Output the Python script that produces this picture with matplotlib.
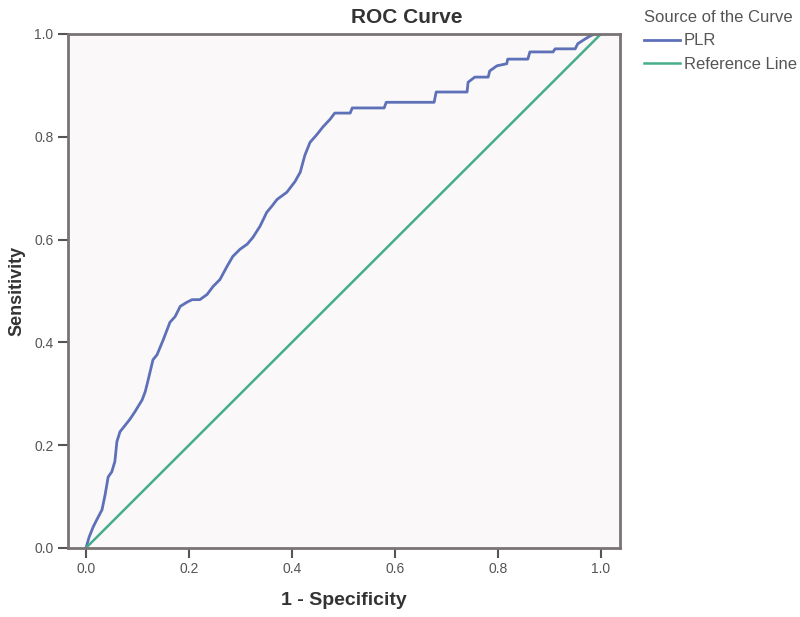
import matplotlib.pyplot as plt

# ROC curve for PLR
fpr = [0.0, 0.006, 0.014, 0.021, 0.031, 0.037, 0.043, 0.050, 0.056, 0.060,
       0.066, 0.085, 0.095, 0.109, 0.115, 0.120, 0.130, 0.138, 0.150, 0.163,
       0.173, 0.183, 0.196, 0.206, 0.221, 0.235, 0.247, 0.260, 0.274, 0.285,
       0.299, 0.313, 0.324, 0.338, 0.351, 0.361, 0.371, 0.390, 0.406, 0.416,
       0.425, 0.435, 0.449, 0.460, 0.474, 0.483, 0.513, 0.517, 0.579, 0.583,
       0.676, 0.680, 0.740, 0.742, 0.755, 0.781, 0.784, 0.798, 0.817, 0.819,
       0.858, 0.862, 0.907, 0.911, 0.950, 0.955, 0.969, 0.979, 0.988, 1.0]
tpr = [0.0, 0.021, 0.041, 0.055, 0.074, 0.103, 0.138, 0.148, 0.168, 0.207,
       0.226, 0.250, 0.265, 0.288, 0.304, 0.324, 0.366, 0.376, 0.405, 0.439,
       0.450, 0.470, 0.478, 0.483, 0.483, 0.493, 0.509, 0.522, 0.548, 0.567,
       0.581, 0.591, 0.604, 0.626, 0.653, 0.665, 0.678, 0.692, 0.713, 0.731,
       0.764, 0.789, 0.805, 0.819, 0.834, 0.846, 0.846, 0.856, 0.856, 0.867,
       0.867, 0.887, 0.887, 0.906, 0.916, 0.916, 0.928, 0.938, 0.942, 0.951,
       0.951, 0.965, 0.965, 0.971, 0.971, 0.981, 0.990, 0.996, 1.0, 1.0]
ref_x = [0.0, 1.0]
ref_y = [0.0, 1.0]
ticks = [0.0, 0.2, 0.4, 0.6, 0.8, 1.0]

plt.rcParams["font.family"] = ["Liberation Sans", "DejaVu Sans"]

fig = plt.figure(figsize=(8, 6.17), dpi=100)
ax = fig.add_axes([0.085, 0.112, 0.69, 0.833])
ax.set_facecolor("#faf8f8")

ax.plot(fpr, tpr, color="#5d70b8", linewidth=2, label="PLR")
ax.plot(ref_x, ref_y, color="#45ad8a", linewidth=1.8, label="Reference Line")

ax.set_xlim(-0.035, 1.037)
ax.set_ylim(0, 1)
ax.set_xticks(ticks)
ax.set_yticks(ticks)
ax.set_xticklabels([f"{t:.1f}" for t in ticks])
ax.set_yticklabels([f"{t:.1f}" for t in ticks])
ax.tick_params(direction="out", length=7, width=1.5, colors="#555555",
               labelsize=10, labelcolor="#555555")
for s in ax.spines.values():
    s.set_color("#7a7373")
    s.set_linewidth(2)

fig.text(0.509, 0.972, "ROC Curve", fontsize=15, fontweight="bold",
         color="#333333", ha="center", va="center")
ax.set_xlabel("1 - Specificity", fontsize=14, fontweight="bold", color="#333333", labelpad=11)
ax.set_ylabel("Sensitivity", fontsize=13, fontweight="bold", color="#333333", labelpad=6)

leg = fig.legend(loc="upper left", bbox_to_anchor=(0.792, 1.0), frameon=False,
                 title="Source of the Curve", fontsize=12, title_fontsize=12,
                 handlelength=2.2, handletextpad=0.2, labelspacing=0.5,
                 alignment="left", borderaxespad=0.2)
for t in leg.get_texts():
    t.set_color("#555555")
leg.get_title().set_color("#555555")

plt.savefig("out.png", dpi=100)
